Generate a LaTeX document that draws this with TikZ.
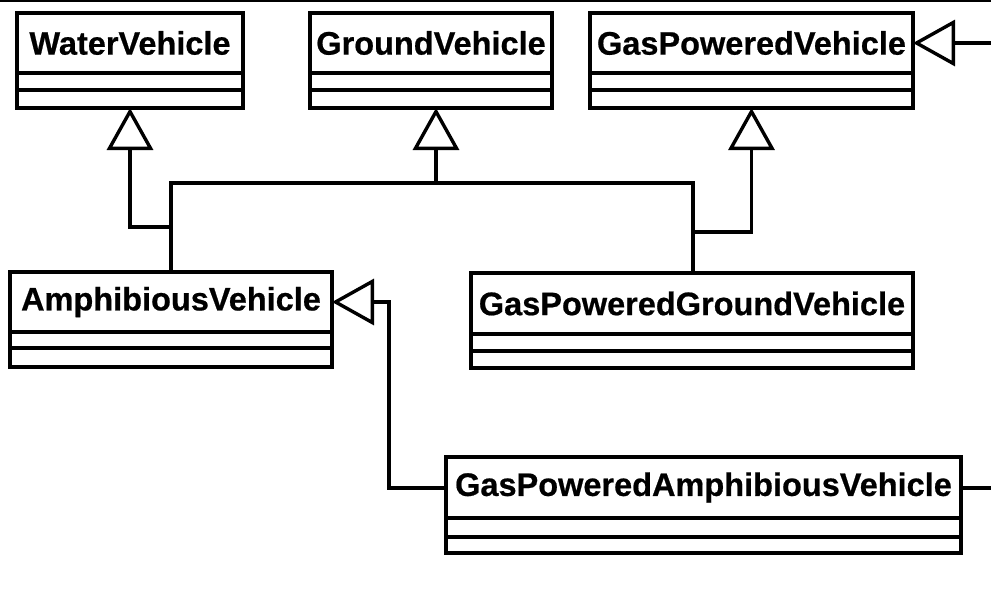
\documentclass[tikz,border=0pt]{standalone}
\usepackage{fontspec}
\setmainfont{Liberation Sans}
\usetikzlibrary{arrows.meta}
\tikzset{
  lw/.style={line width=3.4pt},
  classbox/.style={draw, lw, rectangle, inner sep=0pt, outer sep=0pt, fill=white},
  classname/.style={inner sep=0pt, font=\fontsize{32.5}{32.5}\selectfont\bfseries\addfontfeature{FakeBold=0.6}},
  sepline/.style={lw},
  conn/.style={lw, line join=miter},
  inherit/.style={conn, -{Triangle[open, length=42pt, width=46pt, fill=white]}},
  topline/.style={line width=2pt}
}
\newcommand\umlclass[8]{%
  \node[classbox, minimum width={#4-#2}, minimum height={#5-#3}, anchor=north west] (#1) at (#2,#3) {};
  \draw[sepline] (#2,#6) -- (#4,#6);
  \draw[sepline] (#2,#7) -- (#4,#7);
  \node[classname] (#1name) at ({(#2+#4)/2},{(#3+#6)/2}) {#8};
}
\begin{document}
\begin{tikzpicture}[x=1pt,y=-1pt]
\useasboundingbox (0,0) rectangle (991,590);
\draw[topline] (0,1) -- (991,1);
\umlclass{water}{17}{13}{243}{108}{73}{90}{WaterVehicle}
\umlclass{ground}{310}{13}{552}{108}{73}{90}{GroundVehicle}
\umlclass{gas}{590}{13}{913}{108}{73}{90}{GasPoweredVehicle}
\umlclass{amph}{10}{272}{332}{367}{332}{348}{AmphibiousVehicle}
\umlclass{gpg}{471}{273}{913}{368}{334}{351}{GasPoweredGroundVehicle}
\umlclass{gpa}{446}{457}{961}{553}{518}{537}{GasPoweredAmphibiousVehicle}
\coordinate (j1) at (171,227);
\coordinate (bar) at (436,183);
\coordinate (j2) at (693,232);
\coordinate (gasin) at (991,43);
\coordinate (gpaout) at (991,488);
% Amphibious -> Water
\draw[inherit] (j1) -| (water.south);
% Amphibious & GPG -> Ground
\draw[conn] (amph.north -| j1) |- (bar) -| (gpg.north -| j2);
\draw[inherit] (bar) -- (bar |- ground.south);
% GPG -> Gas
\draw[inherit] (j2) -| (gas.south);
% GPA -> Amph
\draw[inherit] (gpa.west |- gpaout) -- (389,488) |- (amph.east |- 0,302);
% external connectors
\draw[inherit] (gasin) -- (gasin -| gas.east);
\draw[conn] (gpa.east |- gpaout) -- (gpaout);
\end{tikzpicture}
\end{document}
